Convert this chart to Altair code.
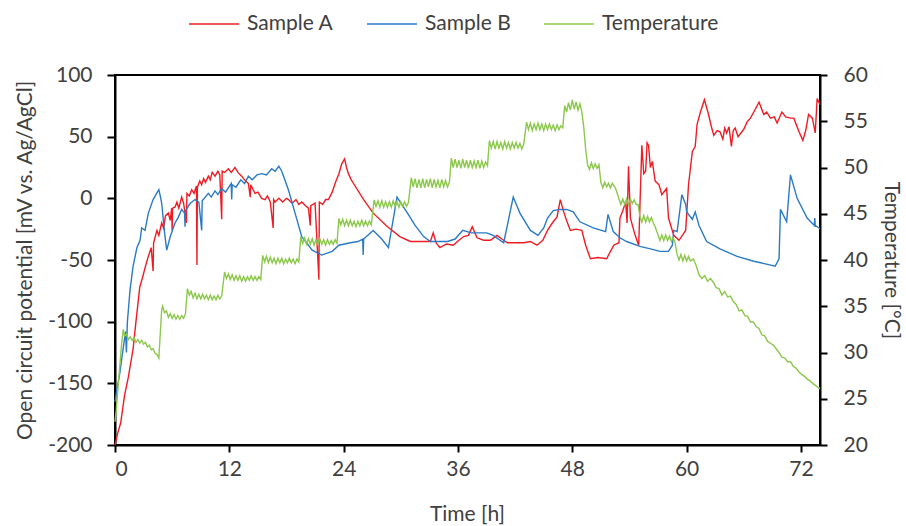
import altair as alt
import pandas as pd

# ---- Sample A (red): (time [h], open circuit potential [mV]) ----
a_pts = [(0, -200), (0.3, -190), (0.6, -182), (1.0, -160), (1.4, -145), (1.9, -122), (2.2, -100), (2.6, -72),
         (2.9, -64), (3.2, -55), (3.5, -47), (3.8, -40), (4.0, -59), (4.05, -36), (4.4, -26), (4.6, -30), (4.9, -20),
         (5.1, -24), (5.3, -14), (5.6, -12), (5.8, -18), (5.95, -8), (6.0, -26), (6.05, -8), (6.3, -7), (6.5, -3),
         (6.7, -8), (7.0, 1), (7.2, -4), (7.5, -20), (7.55, 4), (7.8, 2), (8.05, 7), (8.3, 4), (8.55, 10), (8.6, -54),
         (8.65, 9), (8.9, 14), (9.1, 11), (9.3, 16), (9.5, 13), (9.8, 18), (10.0, 15), (10.2, 21), (10.5, 18),
         (10.8, 22), (11.0, 19), (11.2, -17), (11.25, 22), (11.5, 21), (11.9, 24), (12.2, 21), (12.6, 25), (12.9, 21),
         (13.3, 18), (13.6, 15), (14.0, 12), (14.2, 1), (14.25, 11), (14.5, 7), (14.7, 4), (15.0, 5), (15.4, 0),
         (15.75, -1), (16.0, 2), (16.3, -3), (16.6, -24), (16.65, -1), (16.8, -3), (17.2, 0), (17.6, -3), (18.0, 0),
         (18.2, -1), (18.6, -4), (19.0, -1), (19.3, -5), (19.6, -3), (20.0, -6), (20.3, -8), (20.5, -22), (20.55, -6),
         (21.0, -4), (21.4, -66), (21.45, -3), (21.8, -5), (22.1, -1), (22.4, -1), (22.8, 5), (23.1, 12), (23.5, 20),
         (23.8, 28), (24.1, 32), (24.3, 25), (24.5, 20), (24.8, 15), (25.2, 10), (26.1, -1), (27.1, -12), (28.6, -23),
         (29.9, -31), (31.0, -35), (32.0, -35), (33.1, -35), (33.4, -28), (33.7, -36), (34.1, -40), (34.8, -37),
         (35.5, -38), (36.1, -34), (36.6, -31), (37.1, -30), (37.5, -23), (38.0, -32), (38.7, -34), (39.4, -34),
         (40.1, -30), (40.6, -33), (41.2, -36), (42.0, -36), (42.9, -36), (43.6, -35), (44.3, -38), (44.9, -34),
         (45.4, -26), (45.9, -20), (46.4, -15), (46.74, -1), (47.1, -11), (47.4, -18), (47.8, -26), (48.4, -25),
         (49.0, -26), (49.4, -38), (49.9, -49), (50.7, -48), (51.6, -49), (52.35, -38), (52.9, -36), (53.0, -16),
         (53.3, -10), (53.6, -3), (53.75, -20), (53.9, 26), (54.1, -16), (54.6, -30), (54.97, -38), (55.3, 43),
         (55.5, 20), (55.7, 22), (55.85, 45), (56.0, 43), (56.2, 25), (56.4, 30), (56.7, 14), (57.1, 11), (57.4, 3),
         (57.9, 8), (58.1, -16), (58.65, -30), (59.2, -34), (59.9, -26), (60.2, 11), (60.6, 38), (60.9, 42),
         (61.1, 60), (61.45, 70), (61.87, 80), (62.3, 68), (62.6, 58), (62.85, 51), (63.2, 55), (63.5, 54),
         (63.8, 48), (64.0, 57), (64.2, 53), (64.45, 58), (64.7, 42), (64.9, 55), (65.1, 57), (65.4, 50), (65.8, 54),
         (66.0, 56), (66.35, 62), (66.7, 65), (67.05, 70), (67.6, 78), (68.1, 68), (68.4, 70), (68.8, 65), (69.2, 66),
         (69.5, 61), (70.0, 70), (70.4, 66), (70.9, 65), (71.25, 65), (71.8, 54), (72.2, 47), (72.5, 55), (72.8, 68),
         (73.2, 65), (73.5, 53), (73.7, 81), (74.0, 76)]

# ---- Sample B (blue): (time [h], open circuit potential [mV]) ----
b_pts = [(0, -165), (0.2, -155), (0.5, -142), (0.8, -125), (1.1, -108), (1.2, -125), (1.3, -100), (1.58, -74),
         (1.9, -55), (2.3, -40), (2.63, -34), (2.8, -24), (3.15, -26), (3.5, -12), (4.0, -1), (4.3, 3), (4.6, 7),
         (4.75, 2), (4.9, -4), (5.25, -31), (5.43, -42), (5.8, -31), (6.3, -20), (6.6, -16), (7.0, -9), (7.3, -12),
         (7.35, -23), (7.4, -10), (7.9, -4), (8.4, -1), (8.8, -3), (9.1, -26), (9.15, -2), (9.8, 4), (10.1, 1),
         (10.5, 6), (10.8, 3), (11.2, 8), (11.6, 5), (12.2, 12), (12.25, -1), (12.3, 11), (12.7, 9), (13.2, 15),
         (13.6, 12), (14.0, 18), (14.4, 15), (14.9, 19), (15.4, 20), (15.9, 19), (16.45, 24), (16.8, 22), (17.2, 26),
         (17.5, 22), (18.2, 7), (18.9, -12), (19.6, -31), (20.7, -42), (21.7, -46), (22.8, -43), (23.5, -38),
         (24.7, -36), (25.5, -35), (26.0, -33), (26.05, -46), (26.1, -33), (27.1, -26), (28.0, -33), (28.7, -40),
         (29.6, 1), (30.7, -12), (31.5, -22), (32.4, -31), (33.1, -35), (34.0, -35), (34.9, -35), (35.7, -33),
         (36.5, -26), (37.4, -28), (38.3, -28), (39.0, -28), (39.7, -30), (40.8, -36), (41.8, 1), (42.5, -12),
         (43.6, -26), (44.4, -30), (45.0, -24), (45.4, -16), (46.0, -10), (46.74, -9), (47.4, -9), (48.1, -11),
         (48.8, -19), (50.2, -24), (51.5, -27), (51.75, -13), (52.3, -27), (53.0, -32), (53.7, -35), (55.1, -39),
         (56.2, -41), (57.2, -43), (58.1, -43), (58.5, -38), (58.65, -26), (59.0, -27), (59.5, 3), (59.9, -5),
         (60.0, -11), (60.6, -17), (60.9, -11), (61.3, -22), (62.1, -35), (63.5, -41), (65.3, -47), (67.05, -51),
         (69.3, -55), (69.7, -49), (69.85, -9), (70.5, -19), (70.9, 19), (71.6, 0), (72.65, -16), (73.4, -22),
         (73.45, -16), (73.5, -22), (73.9, -24), (74.0, -25)]

# ---- Temperature (green) [°C] ----
temp_t = [0, 0.15, 0.3, 0.5, 0.7, 0.87, 1.0, 1.2, 1.4, 1.6, 1.8, 2.0, 2.2, 2.4, 2.6, 2.8, 3.0, 3.2, 3.4, 3.6, 3.8, 4.0, 4.2, 4.4, 4.6,
          4.9, 5.0, 5.2, 5.4, 5.6, 5.8, 6.0, 6.2, 6.4, 6.6, 6.8, 7.0, 7.2, 7.4,
          7.6, 7.8, 8.0, 8.2, 8.4, 8.6, 8.8, 9.0, 9.2, 9.4, 9.6, 9.8, 10.0, 10.2, 10.4, 10.6, 10.8, 11.0, 11.2,
          11.5, 11.7, 11.9, 12.1, 12.3, 12.5, 12.7, 12.9, 13.1, 13.3, 13.5, 13.7, 13.9, 14.1, 14.3, 14.5, 14.7, 14.9, 15.1, 15.3,
          15.5, 15.7, 15.9, 16.1, 16.3, 16.5, 16.7, 16.9, 17.1, 17.3, 17.5, 17.7, 17.9, 18.1, 18.3, 18.5, 18.7, 18.9, 19.1, 19.3,
          19.5, 19.7, 19.9, 20.1, 20.3, 20.5, 20.7, 20.9, 21.1, 21.3, 21.5, 21.7, 21.9, 22.1, 22.3, 22.5, 22.7, 22.9, 23.1, 23.3,
          23.5, 23.7, 23.9, 24.1, 24.3, 24.5, 24.7, 24.9, 25.1, 25.3, 25.5, 25.7, 25.9, 26.1, 26.3, 26.5, 26.7, 26.9,
          27.2, 27.4, 27.6, 27.8, 28.0, 28.2, 28.4, 28.6, 28.8, 29.0, 29.2, 29.4, 29.6, 29.8, 30.0, 30.2, 30.4, 30.6, 30.8,
          31.1, 31.3, 31.5, 31.7, 31.9, 32.1, 32.3, 32.5, 32.7, 32.9, 33.1, 33.3, 33.5, 33.7, 33.9, 34.1, 34.3, 34.5, 34.7, 34.9, 35.1,
          35.3, 35.5, 35.7, 35.9, 36.1, 36.3, 36.5, 36.7, 36.9, 37.1, 37.3, 37.5, 37.7, 37.9, 38.1, 38.3, 38.5, 38.7, 38.9, 39.1,
          39.3, 39.5, 39.7, 39.9, 40.1, 40.3, 40.5, 40.7, 40.9, 41.1, 41.3, 41.5, 41.7, 41.9, 42.1, 42.3, 42.5, 42.7, 42.9,
          43.2, 43.4, 43.6, 43.8, 44.0, 44.2, 44.4, 44.6, 44.8, 45.0, 45.2, 45.4, 45.6, 45.8, 46.0, 46.2, 46.4, 46.6, 46.8, 47.0,
          47.2, 47.4, 47.6, 47.8, 48.0, 48.2, 48.4, 48.6, 48.8,
          49.0, 49.2, 49.4, 49.6, 49.8, 50.0, 50.2, 50.4, 50.6, 50.8,
          51.0, 51.2, 51.4, 51.6, 51.8, 52.0, 52.2, 52.4, 52.6,
          52.9, 53.1, 53.3, 53.5, 53.7, 53.9, 54.1, 54.3, 54.5, 54.7, 54.9,
          55.1, 55.3, 55.5, 55.7, 55.9, 56.1, 56.3, 56.5, 56.7,
          57.0, 57.2, 57.4, 57.6, 57.8, 58.0, 58.2, 58.4, 58.6, 58.8,
          59.0, 59.2, 59.4, 59.6, 59.8, 60.0, 60.2, 60.4, 60.7, 61.0,
          61.3, 61.6, 61.9, 62.2, 62.5, 62.8, 63.1, 63.4, 63.7, 64.0, 64.3, 64.6, 64.9, 65.2, 65.5, 65.8, 66.1, 66.4, 66.7,
          67.0, 67.3, 67.6, 67.9, 68.2, 68.5, 68.8, 69.1, 69.4, 69.7, 70.0, 70.3, 70.6, 70.9, 71.2, 71.5, 71.8, 72.1, 72.4,
          72.7, 73.0, 73.3, 73.6, 73.9, 74.0]
temp_v = [22.5, 24.0, 26.0, 28.5, 31.0, 32.5, 31.8, 32.0, 31.4, 31.7, 31.3, 31.6, 31.1, 31.4, 31.0, 31.3, 30.9, 31.1, 30.6, 30.8, 30.3, 30.4, 29.9, 29.8, 29.4,
          34.6, 35.0, 34.3, 34.5, 33.8, 34.2, 33.7, 34.1, 33.6, 34.0, 33.6, 34.0, 33.7, 34.2,
          36.9, 36.2, 36.6, 35.9, 36.4, 35.8, 36.3, 35.8, 36.3, 35.8, 36.2, 35.7, 36.2, 35.7, 36.1, 35.7, 36.2, 35.8, 36.1,
          38.7, 38.0, 38.5, 37.9, 38.4, 37.8, 38.3, 37.8, 38.3, 37.7, 38.2, 37.7, 38.2, 37.8, 38.3, 37.8, 38.2, 37.8, 38.2, 37.9,
          40.5, 39.8, 40.4, 39.7, 40.3, 39.7, 40.2, 39.6, 40.2, 39.7, 40.2, 39.6, 40.1, 39.7, 40.2, 39.7, 40.1, 39.6, 40.1, 39.8,
          42.5, 41.8, 42.4, 41.7, 42.3, 41.7, 42.3, 41.6, 42.2, 41.7, 42.3, 41.7, 42.2, 41.6, 42.2, 41.7, 42.1, 41.7, 42.2, 41.8,
          44.5, 43.8, 44.4, 43.7, 44.3, 43.7, 44.3, 43.7, 44.2, 43.6, 44.2, 43.7, 44.3, 43.7, 44.2, 43.7, 44.2, 43.8,
          46.5, 45.8, 46.4, 45.7, 46.4, 45.7, 46.3, 45.7, 46.3, 45.7, 46.4, 45.8, 46.3, 45.7, 46.3, 45.8, 46.3, 45.8, 46.2,
          48.9, 47.9, 48.8, 47.8, 48.7, 47.8, 48.8, 47.8, 48.7, 47.9, 48.8, 47.8, 48.7, 47.9, 48.6, 47.8, 48.7, 47.9, 48.6, 47.9, 48.4,
          51.0, 50.0, 50.9, 50.0, 50.8, 49.9, 50.9, 50.0, 50.8, 49.9, 50.8, 50.0, 50.7, 50.0, 50.8, 49.9, 50.7, 50.0, 50.6, 50.2,
          52.9, 52.1, 52.8, 52.0, 52.8, 52.1, 52.7, 52.0, 52.8, 52.1, 52.7, 52.0, 52.7, 52.1, 52.7, 52.1, 52.6, 52.0, 52.5,
          54.9, 54.1, 54.8, 54.0, 54.7, 54.1, 54.8, 54.1, 54.7, 54.0, 54.7, 54.1, 54.7, 54.1, 54.6, 54.0, 54.6, 54.1, 54.5, 54.3,
          56.7, 56.0, 57.0, 56.2, 57.3, 56.3, 57.1, 56.2, 56.9,
          56.0, 54.4, 52.0, 50.3, 49.8, 50.5, 49.9, 50.4, 49.9, 50.3,
          48.4, 47.8, 48.4, 47.9, 48.3, 47.8, 48.3, 48.0, 47.6,
          46.6, 46.0, 46.6, 46.0, 46.6, 46.0, 46.6, 46.1, 46.5, 46.0, 46.0,
          44.7, 44.1, 44.8, 44.1, 44.7, 44.1, 44.6, 44.0, 43.6,
          42.7, 42.1, 42.7, 42.1, 42.7, 42.1, 42.6, 42.0, 42.4, 41.8,
          40.6, 40.0, 40.6, 39.9, 40.5, 39.9, 40.4, 39.9, 40.1, 39.4,
          38.4, 38.0, 38.3, 37.7, 38.0, 37.6, 37.0, 36.9, 36.2, 36.6, 36.0, 36.1, 35.5, 35.2, 34.5, 34.6, 34.0, 33.9, 33.3,
          33.3, 32.8, 32.6, 31.9, 31.8, 31.2, 31.0, 30.8, 30.4, 30.0, 29.5, 29.4, 29.0, 29.0, 28.5, 28.3, 27.9, 27.6, 27.4,
          27.1, 26.9, 26.6, 26.4, 26.1, 26.2]

series_names = ["Sample A", "Sample B", "Temperature"]
series_colors = ["#EE1C24", "#2A7AC6", "#8CC84B"]
x_ticks = [0, 12, 24, 36, 48, 60, 72]
y_left_ticks = [-200, -150, -100, -50, 0, 50, 100]
y_right_ticks = [20, 25, 30, 35, 40, 45, 50, 55, 60]

df_ocp = pd.concat([
    pd.DataFrame(a_pts, columns=["t", "v"]).assign(series="Sample A"),
    pd.DataFrame(b_pts, columns=["t", "v"]).assign(series="Sample B"),
])
df_temp = pd.DataFrame({"t": temp_t, "T": temp_v, "series": "Temperature"})

FONT = "Lato"
TXT = "#404040"

color = alt.Color(
    "series:N",
    scale=alt.Scale(domain=series_names, range=series_colors),
    legend=alt.Legend(
        title=None, orient="none", direction="horizontal",
        legendX=73, legendY=-77, padding=0,
        symbolType="stroke", symbolSize=2500, symbolStrokeWidth=1.5,
        labelFontSize=21, labelFont=FONT, labelColor=TXT,
        labelOffset=7, columnPadding=30,
    ),
)

x_enc = alt.X(
    "t:Q",
    scale=alt.Scale(domain=[0, 74], nice=False, zero=False),
    axis=alt.Axis(values=x_ticks, title="Time [h]", titleX=352, titleY=69,
                  titleBaseline="middle", labelPadding=6, tickSize=7),
)

left = alt.Chart(df_ocp).mark_line(strokeWidth=1.4).encode(
    x=x_enc,
    y=alt.Y("v:Q", scale=alt.Scale(domain=[-200, 100], nice=False, zero=False),
            axis=alt.Axis(values=y_left_ticks, orient="left", labelExpr="'' + datum.value",
                          title="Open circuit potential [mV vs. Ag/AgCl]",
                          titleX=-90, titleY=185, titleAngle=-90, titleBaseline="middle",
                          labelPadding=15, tickSize=8)),
    color=color,
)

right = alt.Chart(df_temp).mark_line(strokeWidth=1.4).encode(
    x=x_enc,
    y=alt.Y("T:Q", scale=alt.Scale(domain=[20, 60], nice=False, zero=False),
            axis=alt.Axis(values=y_right_ticks, orient="right",
                          title="Temperature [°C]",
                          titleX=70, titleY=185, titleAngle=90, titleBaseline="middle",
                          labelPadding=16, tickSize=7)),
    color=color,
)

chart = alt.layer(left, right).resolve_scale(y="independent").properties(
    width=705, height=370,
    autosize=alt.AutoSizeParams(type="none"),
    padding={"left": 115, "top": 75, "right": 86, "bottom": 81},
).configure_view(
    stroke="black", strokeWidth=2,
).configure_axis(
    grid=False, domainColor="black", domainWidth=2, tickColor="black", tickWidth=2,
    labelFont=FONT, labelFontSize=21, labelColor=TXT,
    titleFont=FONT, titleFontSize=21, titleColor=TXT, titleFontWeight="normal",
)

chart.save("out.html", embed_options={"renderer": "svg", "actions": False})
